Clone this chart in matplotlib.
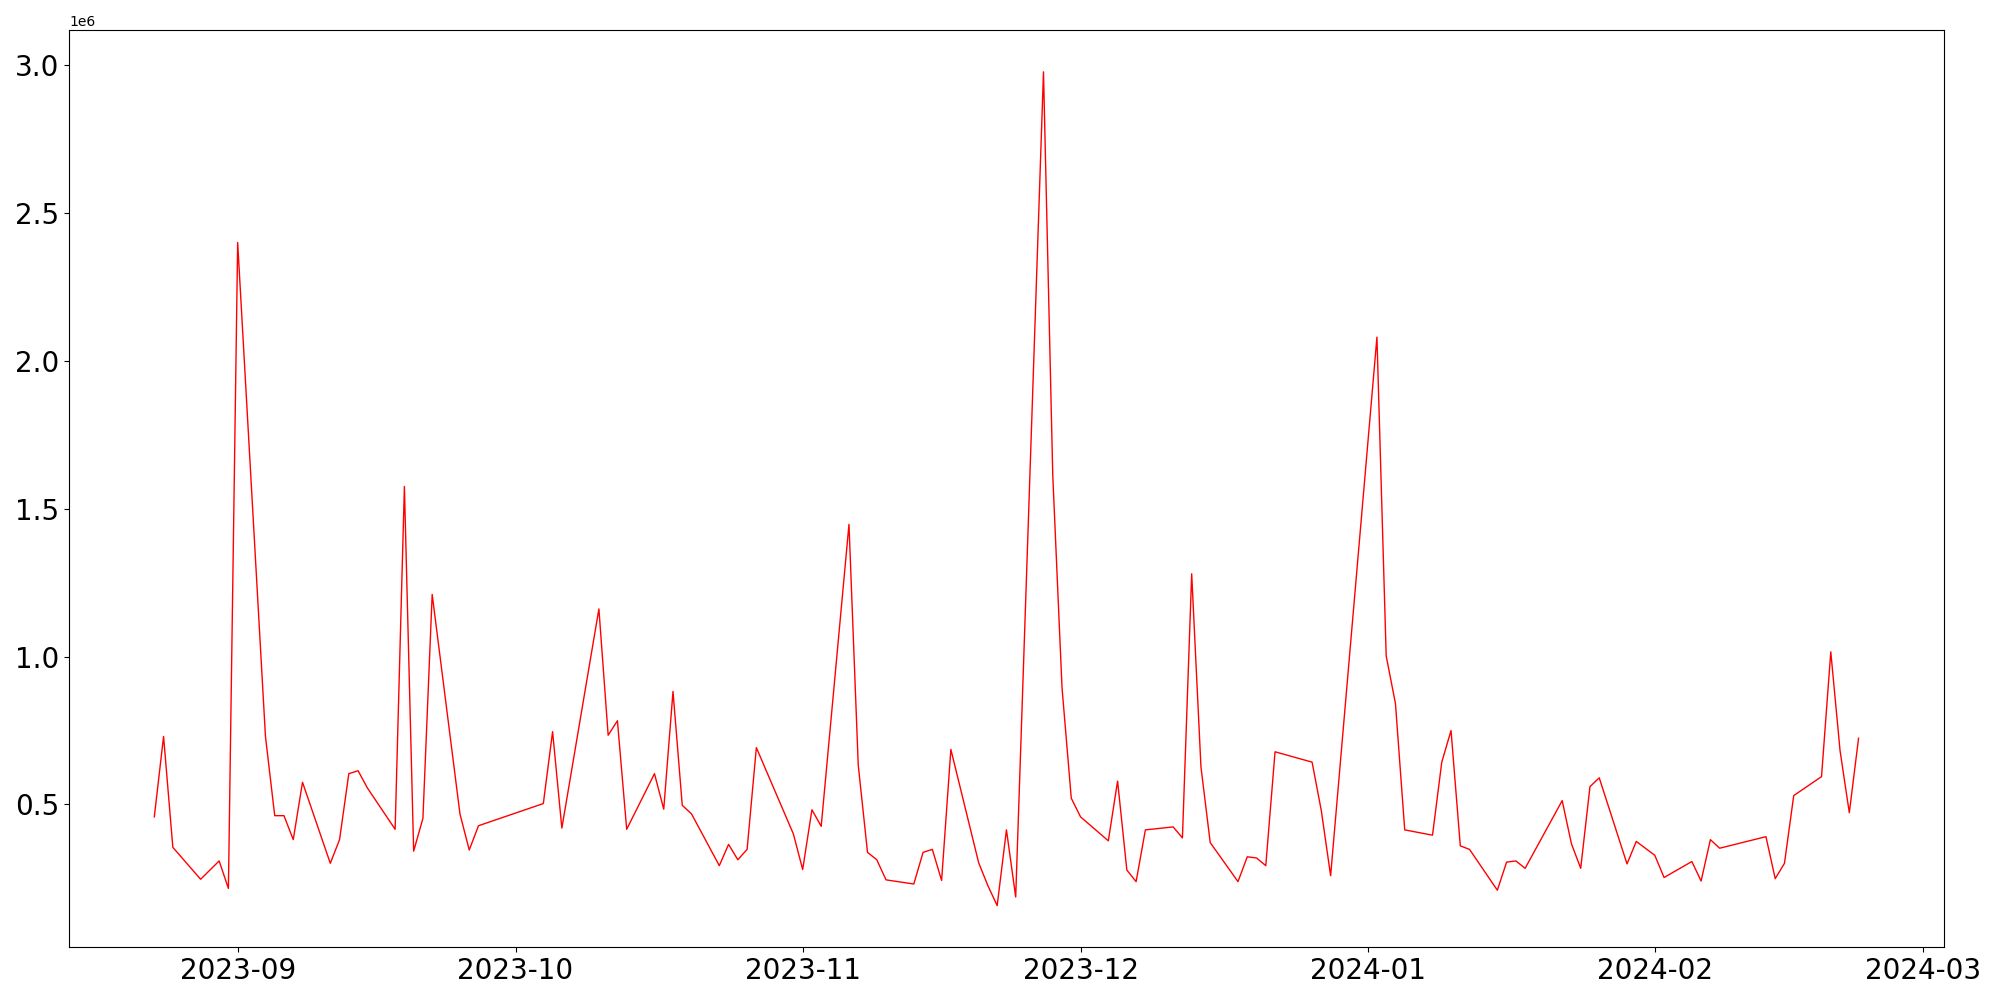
#!/usr/bin/env python3
# -*- coding: utf-8 -*-
"""
    Gráfico de líneas con la evolución diaria del volumen
    entre agosto de 2023 y febrero de 2024.
"""

import pandas as pd
import matplotlib
matplotlib.use("Agg")
import matplotlib.pyplot as plt

# Fechas de cada observación
fechas = [
    "2023-08-23", "2023-08-24", "2023-08-25", "2023-08-28", "2023-08-30",
    "2023-08-31", "2023-09-01", "2023-09-04", "2023-09-05", "2023-09-06",
    "2023-09-07", "2023-09-08", "2023-09-11", "2023-09-12", "2023-09-13",
    "2023-09-14", "2023-09-15", "2023-09-18", "2023-09-19", "2023-09-20",
    "2023-09-21", "2023-09-22", "2023-09-25", "2023-09-26", "2023-09-27",
    "2023-10-04", "2023-10-05", "2023-10-06", "2023-10-10", "2023-10-11",
    "2023-10-12", "2023-10-13", "2023-10-16", "2023-10-17", "2023-10-18",
    "2023-10-19", "2023-10-20", "2023-10-23", "2023-10-24", "2023-10-25",
    "2023-10-26", "2023-10-27", "2023-10-31", "2023-11-01", "2023-11-02",
    "2023-11-03", "2023-11-06", "2023-11-07", "2023-11-08", "2023-11-09",
    "2023-11-10", "2023-11-13", "2023-11-14", "2023-11-15", "2023-11-16",
    "2023-11-17", "2023-11-20", "2023-11-21", "2023-11-22", "2023-11-23",
    "2023-11-24", "2023-11-27", "2023-11-28", "2023-11-29", "2023-11-30",
    "2023-12-01", "2023-12-04", "2023-12-05", "2023-12-06", "2023-12-07",
    "2023-12-08", "2023-12-11", "2023-12-12", "2023-12-13", "2023-12-14",
    "2023-12-15", "2023-12-18", "2023-12-19", "2023-12-20", "2023-12-21",
    "2023-12-22", "2023-12-26", "2023-12-27", "2023-12-28", "2024-01-02",
    "2024-01-03", "2024-01-04", "2024-01-05", "2024-01-08", "2024-01-09",
    "2024-01-10", "2024-01-11", "2024-01-12", "2024-01-15", "2024-01-16",
    "2024-01-17", "2024-01-18", "2024-01-22", "2024-01-23", "2024-01-24",
    "2024-01-25", "2024-01-26", "2024-01-29", "2024-01-30", "2024-02-01",
    "2024-02-02", "2024-02-05", "2024-02-06", "2024-02-07", "2024-02-08",
    "2024-02-13", "2024-02-14", "2024-02-15", "2024-02-16", "2024-02-19",
    "2024-02-20", "2024-02-21", "2024-02-22", "2024-02-23",
]

# Valores en millones (se multiplican por 1e6 al dibujar)
valores = [
    0.458, 0.730, 0.355, 0.247, 0.309,
    0.216, 2.400, 0.730, 0.462, 0.462,
    0.381, 0.575, 0.301, 0.381, 0.604,
    0.614, 0.556, 0.416, 1.575, 0.342,
    0.453, 1.210, 0.468, 0.346, 0.428,
    0.503, 0.746, 0.420, 1.161, 0.734,
    0.783, 0.416, 0.604, 0.484, 0.882,
    0.497, 0.468, 0.293, 0.365, 0.313,
    0.348, 0.692, 0.400, 0.280, 0.482,
    0.426, 1.447, 0.633, 0.338, 0.313,
    0.245, 0.231, 0.338, 0.348, 0.243,
    0.686, 0.303, 0.225, 0.158, 0.414,
    0.187, 2.977, 1.614, 0.895, 0.521,
    0.458, 0.377, 0.579, 0.278, 0.239,
    0.414, 0.424, 0.387, 1.280, 0.627,
    0.371, 0.239, 0.323, 0.319, 0.293,
    0.678, 0.643, 0.478, 0.259, 2.080,
    1.002, 0.841, 0.414, 0.396, 0.643,
    0.750, 0.360, 0.348, 0.210, 0.305,
    0.309, 0.284, 0.513, 0.367, 0.284,
    0.560, 0.590, 0.299, 0.375, 0.328,
    0.253, 0.307, 0.241, 0.381, 0.352,
    0.391, 0.249, 0.301, 0.530, 0.594,
    1.016, 0.682, 0.472, 0.724,
]


def grafLinea(salida):
    """
        Dibuja la serie temporal en rojo y guarda la figura
    """
    x = pd.to_datetime(fechas)
    y = [v * 1e6 for v in valores]

    fig, ax = plt.subplots(figsize=(20, 10), dpi=100)

    # Línea roja fina
    ax.plot(x, y, color="red", linewidth=1)

    # Etiquetas de los ejes grandes
    ax.tick_params(axis="both", labelsize=20)

    fig.tight_layout()
    fig.savefig(salida)


def main():
    grafLinea("out.png")


if __name__ == "__main__":
    main()
